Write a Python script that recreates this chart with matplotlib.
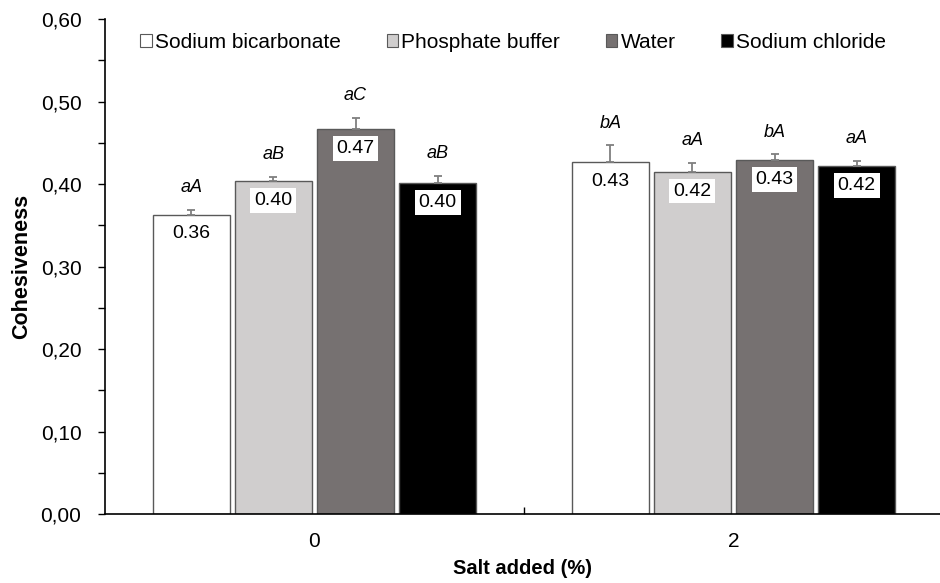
import numpy as np
import matplotlib.pyplot as plt
from matplotlib.patches import Patch
from matplotlib.ticker import MultipleLocator, FuncFormatter

plt.rcParams['font.family'] = ['Liberation Sans', 'DejaVu Sans']

groups = ["0", "2"]
series = ["Sodium bicarbonate", "Phosphate buffer", "Water", "Sodium chloride"]
colors = ["#ffffff", "#d0cece", "#767171", "#000000"]
values = [
    [0.363, 0.427],
    [0.404, 0.415],
    [0.467, 0.429],
    [0.401, 0.422],
]
errors = [
    [0.006, 0.020],
    [0.005, 0.011],
    [0.013, 0.007],
    [0.009, 0.006],
]
labels = [
    ["0.36", "0.43"],
    ["0.40", "0.42"],
    ["0.47", "0.43"],
    ["0.40", "0.42"],
]
letters = [
    ["aA", "bA"],
    ["aB", "aA"],
    ["aC", "bA"],
    ["aB", "aA"],
]

fig = plt.figure(figsize=(9.4, 5.83), dpi=100)
ax = fig.add_axes([0.1117, 0.1183, 0.8883, 0.8491])

x = np.arange(len(groups))
pitch = 0.196
width = 0.184
for i, name in enumerate(series):
    pos = x + (i - 1.5) * pitch
    ax.bar(pos, values[i], width, color=colors[i], edgecolor="#595959",
           linewidth=1.0, zorder=2)
    ax.errorbar(pos, values[i], yerr=[np.zeros(2), errors[i]], fmt="none",
                ecolor="#7f7f7f", elinewidth=1.3, capsize=3, capthick=1.3, zorder=3)
    for j in range(len(groups)):
        ax.annotate(labels[i][j], (pos[j], values[i][j]), xytext=(0, -14),
                    textcoords="offset points", ha="center", va="center",
                    fontsize=14, zorder=4,
                    bbox=dict(boxstyle="square,pad=0.2", fc="white", ec="none"))
        ax.annotate(letters[i][j], (pos[j], values[i][j] + errors[i][j]),
                    xytext=(0, 16), textcoords="offset points", ha="center",
                    va="center", fontsize=13, style="italic")

ax.set_xlim(-0.5, 1.493)
ax.set_ylim(0, 0.6)
ax.yaxis.set_major_locator(MultipleLocator(0.1))
ax.yaxis.set_minor_locator(MultipleLocator(0.05))
ax.yaxis.set_major_formatter(FuncFormatter(lambda v, p: f"{v:.2f}".replace(".", ",")))
ax.tick_params(axis="y", which="both", direction="out", length=5, width=1,
               labelsize=15, pad=12)

ax.set_xticks(x)
ax.set_xticklabels(groups)
ax.tick_params(axis="x", which="major", length=0, labelsize=15, pad=13)
ax.set_xticks([0.5], minor=True)
ax.tick_params(axis="x", which="minor", direction="in", length=5, width=1)

for s in ["top", "right"]:
    ax.spines[s].set_visible(False)
for s in ["left", "bottom"]:
    ax.spines[s].set_linewidth(1.2)

ax.set_ylabel("Cohesiveness", fontsize=15.5, fontweight="bold", labelpad=6)
ax.set_xlabel("Salt added (%)", fontsize=14.5, fontweight="bold", labelpad=6)

handles = [Patch(facecolor=c, edgecolor="#595959", linewidth=0.8) for c in colors]
ax.legend(handles, series, loc="upper left", bbox_to_anchor=(0.02, 1.01),
          ncol=4, frameon=False, fontsize=15, handlelength=0.55,
          handleheight=0.55, handletextpad=0.15, columnspacing=2.2)

fig.savefig("out.png", dpi=100)
